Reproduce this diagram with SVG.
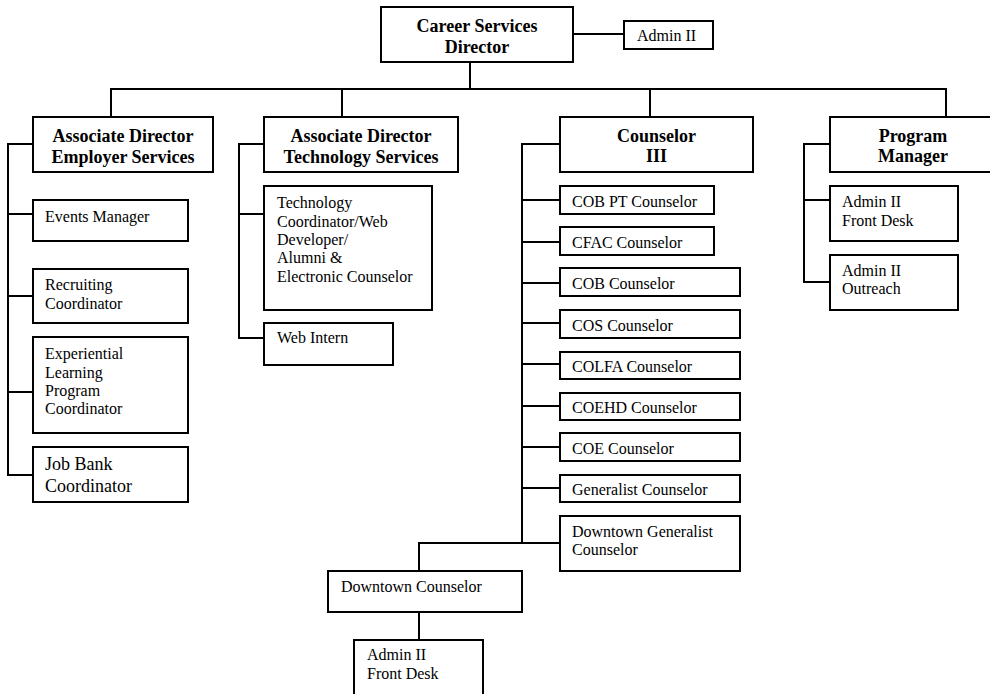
<svg xmlns="http://www.w3.org/2000/svg" width="990" height="694" viewBox="0 0 990 694">
<style>
.box{fill:#fff;stroke:#000;stroke-width:2}
.ln{fill:none;stroke:#000;stroke-width:2}
.h{font-family:"Liberation Serif","Times New Roman",serif;font-weight:bold;font-size:18px;text-anchor:middle;fill:#000}
.t{font-family:"Liberation Serif","Times New Roman",serif;font-size:16px;fill:#000}
.tl{font-family:"Liberation Serif","Times New Roman",serif;font-size:18px;fill:#000}
</style>
<rect width="990" height="694" fill="#fff"/>
<g id="connectors" class="ln">
<path d="M573 34H624"/>
<path d="M470 62V89"/>
<path d="M111 117V89H946V117"/>
<path d="M342 89V117"/>
<path d="M650 89V117"/>
<path d="M33 144H8V475H33M8 214H33M8 296H33M8 392H33"/>
<path d="M264 144H239V338H264M239 214H264"/>
<path d="M560 144H522V543M522 200H560M522 242H560M522 283H560M522 323H560M522 364H560M522 406H560M522 447H560M522 488H560M419 571V543H560"/>
<path d="M419 612V640"/>
<path d="M830 144H804V282H830M804 200H830"/>
</g>
<g id="director"><rect class="box" x="381" y="7" width="192" height="55"/><text class="h" x="477" y="32">Career Services</text><text class="h" x="477" y="53">Director</text></g>
<g id="admin-top"><rect class="box" x="624" y="21" width="89" height="28"/><text class="t" x="637" y="41">Admin II</text></g>
<g id="ad-employer"><rect class="box" x="33" y="117" width="180" height="55"/><text class="h" x="123" y="142">Associate Director</text><text class="h" x="123" y="163">Employer Services</text></g>
<g id="events"><rect class="box" x="33" y="200" width="155" height="41"/><text class="t" x="45" y="222">Events Manager</text></g>
<g id="recruiting"><rect class="box" x="33" y="269" width="155" height="54"/><text class="t" x="45" y="290">Recruiting</text><text class="t" x="45" y="309">Coordinator</text></g>
<g id="experiential"><rect class="box" x="33" y="337" width="155" height="96"/><text class="t" x="45" y="359">Experiential</text><text class="t" x="45" y="378">Learning</text><text class="t" x="45" y="396">Program</text><text class="t" x="45" y="414">Coordinator</text></g>
<g id="jobbank"><rect class="box" x="33" y="447" width="155" height="55"/><text class="tl" x="45" y="470">Job Bank</text><text class="tl" x="45" y="492">Coordinator</text></g>
<g id="ad-tech"><rect class="box" x="264" y="117" width="194" height="55"/><text class="h" x="361" y="142">Associate Director</text><text class="h" x="361" y="163">Technology Services</text></g>
<g id="techcoord"><rect class="box" x="264" y="186" width="168" height="124"/><text class="t" x="277" y="208">Technology</text><text class="t" x="277" y="227">Coordinator/Web</text><text class="t" x="277" y="245">Developer/</text><text class="t" x="277" y="263">Alumni &amp;</text><text class="t" x="277" y="282">Electronic Counselor</text></g>
<g id="webintern"><rect class="box" x="264" y="323" width="129" height="42"/><text class="t" x="277" y="343">Web Intern</text></g>
<g id="counselor3"><rect class="box" x="560" y="117" width="193" height="55"/><text class="h" x="656.5" y="142">Counselor</text><text class="h" x="656.5" y="162">III</text></g>
<g id="cobpt"><rect class="box" x="560" y="186" width="154" height="28"/><text class="t" x="572" y="207">COB PT Counselor</text></g>
<g id="cfac"><rect class="box" x="560" y="227" width="154" height="28"/><text class="t" x="572" y="248">CFAC Counselor</text></g>
<g id="cob"><rect class="box" x="560" y="268" width="180" height="28"/><text class="t" x="572" y="289">COB Counselor</text></g>
<g id="cos"><rect class="box" x="560" y="310" width="180" height="28"/><text class="t" x="572" y="331">COS Counselor</text></g>
<g id="colfa"><rect class="box" x="560" y="352" width="180" height="27"/><text class="t" x="572" y="372">COLFA Counselor</text></g>
<g id="coehd"><rect class="box" x="560" y="393" width="180" height="27"/><text class="t" x="572" y="413">COEHD Counselor</text></g>
<g id="coe"><rect class="box" x="560" y="433" width="180" height="28"/><text class="t" x="572" y="454">COE Counselor</text></g>
<g id="generalist"><rect class="box" x="560" y="475" width="180" height="27"/><text class="t" x="572" y="495">Generalist Counselor</text></g>
<g id="dtgeneralist"><rect class="box" x="560" y="516" width="180" height="55"/><text class="t" x="572" y="537">Downtown Generalist</text><text class="t" x="572" y="555">Counselor</text></g>
<g id="dtcounselor"><rect class="box" x="328" y="571" width="194" height="41"/><text class="t" x="341" y="592">Downtown Counselor</text></g>
<g id="dtadmin"><rect class="box" x="354" y="640" width="129" height="62"/><text class="t" x="367" y="660">Admin II</text><text class="t" x="367" y="679">Front Desk</text></g>
<g id="progmgr"><rect class="box" x="830" y="117" width="166" height="55"/><text class="h" x="913" y="142">Program</text><text class="h" x="913" y="162">Manager</text></g>
<g id="frontdesk"><rect class="box" x="830" y="186" width="128" height="55"/><text class="t" x="842" y="207">Admin II</text><text class="t" x="842" y="226">Front Desk</text></g>
<g id="outreach"><rect class="box" x="830" y="255" width="128" height="55"/><text class="t" x="842" y="276">Admin II</text><text class="t" x="842" y="294">Outreach</text></g>
</svg>
